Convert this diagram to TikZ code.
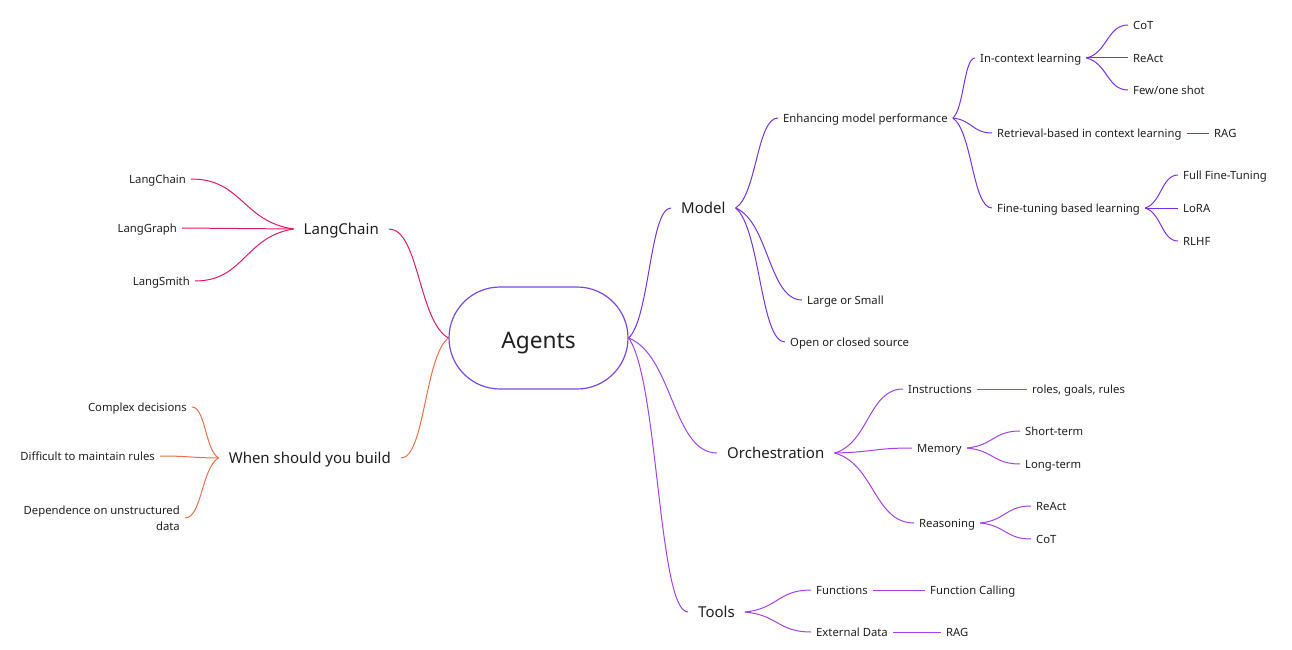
\documentclass[tikz,border=0pt]{standalone}
\usepackage{fontspec}
\setmainfont{Noto Sans}
\usetikzlibrary{calc}
\definecolor{cpink}{HTML}{E0196A}
\definecolor{corange}{HTML}{EB7048}
\definecolor{cviolet}{HTML}{7A2FE8}
\definecolor{cpurple}{HTML}{A540EE}
\definecolor{cborder}{HTML}{7D46E6}
\definecolor{ctext}{HTML}{1F1F1F}
\newcommand\conn[3]{\draw[#1] let \p1=(#2),\p2=(#3) in (\p1) .. controls ({\x1+0.5*(\x2-\x1)},{\y1+0.15*(\y2-\y1)}) and ({\x2-0.5*(\x2-\x1)},\y2) .. (\p2);}
\tikzset{
  lbl/.style={text=ctext, inner ysep=0pt, text height=8.4pt, text depth=0pt, font=\fontsize{11.3}{16}\selectfont},
  sm/.style={lbl, inner xsep=5pt},
  big/.style={lbl, inner xsep=10pt, text height=11.4pt, font=\fontsize{15}{18}\selectfont},
  rt/.style={anchor=west},
  lt/.style={anchor=east},
  lnk/.style={line width=1pt},
  pinkln/.style={lnk, draw=cpink},
  orangeln/.style={lnk, draw=corange},
  violetln/.style={lnk, draw=cviolet},
  purpleln/.style={lnk, draw=cpurple},
  root/.style={draw=cborder, line width=1.2pt, rounded corners=51pt, minimum width=179pt, minimum height=102pt, text=ctext, text height=21.6pt, text depth=0pt, font=\fontsize{22.7}{26}\selectfont}
}
\begin{document}
\begin{tikzpicture}[x=1pt,y=-1pt]
\useasboundingbox (0,0) rectangle (1292,650);
% root
\node[root] (agents) at (538.5,338) {Agents};
% left side
\node[big,lt] (langchain) at (389,229) {LangChain};
\node[sm,lt] (lc) at (191,179) {LangChain};
\node[sm,lt] (lg) at (182,228) {LangGraph};
\node[sm,lt] (ls) at (195,281) {LangSmith};
\node[big,lt] (when) at (401,458) {When should you build};
\node[sm,lt] (cd) at (192,407) {Complex decisions};
\node[sm,lt] (dm) at (160,456) {Difficult to maintain rules};
\node[sm,lt,align=right,text height=,text depth=] (du) at (185,518) {Dependence on unstructured\\data};
% model
\node[big,rt] (model) at (671,208) {Model};
\node[sm,rt] (emp) at (778,118) {Enhancing model performance};
\node[sm,rt] (los) at (802,300) {Large or Small};
\node[sm,rt] (ocs) at (785,342) {Open or closed source};
\node[sm,rt] (icl) at (975,58) {In-context learning};
\node[sm,rt] (rbl) at (992,133) {Retrieval-based in context learning};
\node[sm,rt] (ftl) at (992,208) {Fine-tuning based learning};
\node[sm,rt] (rag1) at (1209,133) {RAG};
\node[sm,rt] (cot1) at (1128,25) {CoT};
\node[sm,rt] (react1) at (1128,58) {ReAct};
\node[sm,rt] (few) at (1128,90) {Few/one shot};
\node[sm,rt] (fft) at (1178,175) {Full Fine-Tuning};
\node[sm,rt] (lora) at (1178,208) {LoRA};
\node[sm,rt] (rlhf) at (1178,241) {RLHF};
% orchestration
\node[big,rt] (orch) at (717,453) {Orchestration};
\node[sm,rt] (instr) at (903,389) {Instructions};
\node[sm,rt] (rgr) at (1027,389) {roles, goals, rules};
\node[sm,rt] (mem) at (912,448) {Memory};
\node[sm,rt] (st) at (1020,431) {Short-term};
\node[sm,rt] (lterm) at (1020,464) {Long-term};
\node[sm,rt] (reas) at (914,523) {Reasoning};
\node[sm,rt] (react2) at (1031,506) {ReAct};
\node[sm,rt] (cot2) at (1031,539) {CoT};
% tools
\node[big,rt] (tools) at (688,612) {Tools};
\node[sm,rt] (func) at (811,590) {Functions};
\node[sm,rt] (fcall) at (925,590) {Function Calling};
\node[sm,rt] (ext) at (811,632) {External Data};
\node[sm,rt] (rag2) at (941,632) {RAG};
% connectors left
\conn{pinkln}{agents.west}{langchain.east}
\conn{pinkln}{langchain.west}{lc.east}
\conn{pinkln}{langchain.west}{lg.east}
\conn{pinkln}{langchain.west}{ls.east}
\conn{orangeln}{agents.west}{when.east}
\conn{orangeln}{when.west}{cd.east}
\conn{orangeln}{when.west}{dm.east}
\conn{orangeln}{when.west}{du.east}
% model
\conn{violetln}{agents.east}{model.west}
\conn{violetln}{model.east}{emp.west}
\conn{violetln}{model.east}{los.west}
\conn{violetln}{model.east}{ocs.west}
\conn{violetln}{emp.east}{icl.west}
\conn{violetln}{emp.east}{rbl.west}
\conn{violetln}{emp.east}{ftl.west}
\conn{violetln}{rbl.east}{rag1.west}
\conn{violetln}{icl.east}{cot1.west}
\conn{violetln}{icl.east}{react1.west}
\conn{violetln}{icl.east}{few.west}
\conn{violetln}{ftl.east}{fft.west}
\conn{violetln}{ftl.east}{lora.west}
\conn{violetln}{ftl.east}{rlhf.west}
% orchestration
\conn{purpleln}{agents.east}{orch.west}
\conn{purpleln}{orch.east}{instr.west}
\conn{purpleln}{orch.east}{mem.west}
\conn{purpleln}{orch.east}{reas.west}
\conn{purpleln}{instr.east}{rgr.west}
\conn{purpleln}{mem.east}{st.west}
\conn{purpleln}{mem.east}{lterm.west}
\conn{purpleln}{reas.east}{react2.west}
\conn{purpleln}{reas.east}{cot2.west}
% tools
\conn{purpleln}{agents.east}{tools.west}
\conn{purpleln}{tools.east}{func.west}
\conn{purpleln}{tools.east}{ext.west}
\conn{purpleln}{func.east}{fcall.west}
\conn{purpleln}{ext.east}{rag2.west}
\end{tikzpicture}
\end{document}
